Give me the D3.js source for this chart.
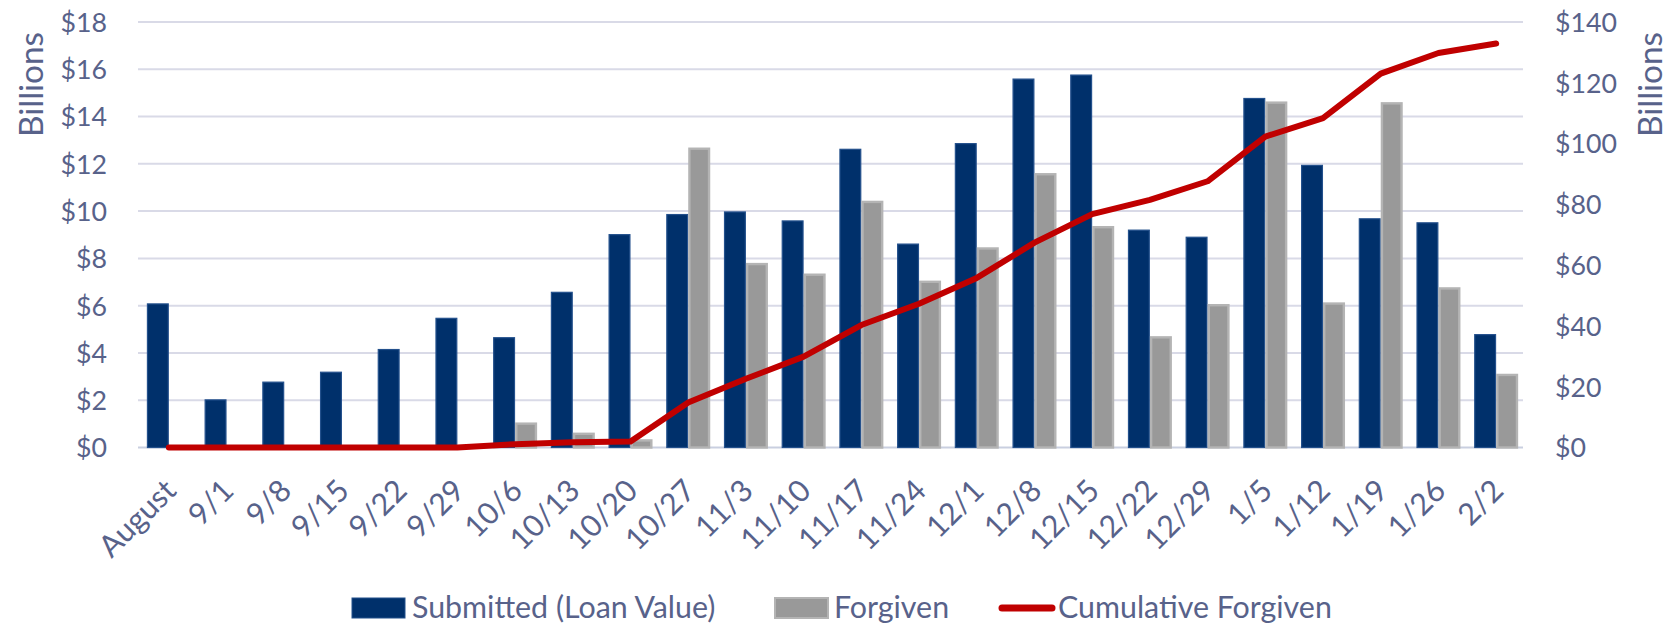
<!DOCTYPE html>
<html><head><meta charset="utf-8">
<script src="https://cdn.jsdelivr.net/npm/d3@7"></script>
<style>
body{margin:0;background:#fff}
svg{display:block}
text{font-family:Lato,"Source Sans Pro",sans-serif;fill:#58628a}
</style>
</head><body>
<svg id="c" width="1670" height="623"></svg>
<script>
const categories = ["August","9/1","9/8","9/15","9/22","9/29","10/6","10/13","10/20","10/27","11/3","11/10","11/17","11/24","12/1","12/8","12/15","12/22","12/29","1/5","1/12","1/19","1/26","2/2"];
const submitted = [6.1,2.04,2.79,3.21,4.17,5.49,4.67,6.59,9.03,9.88,9.99,9.61,12.64,8.63,12.88,15.61,15.78,9.22,8.92,14.79,11.96,9.70,9.53,4.80];
const forgiven = [0,0,0,0,0,0,1.06,0.63,0.35,12.69,7.81,7.36,10.44,7.06,8.47,11.61,9.37,4.71,6.07,14.64,6.14,14.61,6.78,3.12];
const cumulative = [0,0,0,0,0,0,1.1,1.7,2.0,14.8,22.6,29.9,40.3,47.3,55.8,67.4,76.8,81.5,87.6,102.3,108.4,123.0,129.8,132.9];
const leftTicks = [0,2,4,6,8,10,12,14,16,18];
const rightTicks = [0,20,40,60,80,100,120,140];
const seriesNames = ["Submitted (Loan Value)","Forgiven","Cumulative Forgiven"];
const axisTitle = "Billions";

const svg = d3.select("#c");
const plot = {left:140,right:1525,top:22,bottom:447.5};
const COL = {blue:"#00306b",blueEdge:"#23508c",gray:"#999999",grayEdge:"#b4b4b4",red:"#c00000",grid:"#d9dae7",text:"#58628a"};

function fit(str, target){
  const t = svg.append("text").attr("font-size",100).text(str);
  const w = t.node().getComputedTextLength();
  t.remove();
  return 100*target/w;
}
const fsTick = fit("$140",62);
const fsLegend = fit("Cumulative Forgiven",274);
const fsTitle = fit("Billions",105);
const fsX = fsLegend;

const x0 = d3.scaleBand().domain(categories).range([plot.left,plot.right]).paddingInner(0.237).paddingOuter(0.1185);
const x1 = d3.scaleBand().domain(["s","f"]).range([0,x0.bandwidth()]);
const yL = d3.scaleLinear().domain([0,18]).range([plot.bottom,plot.top]);
const yR = d3.scaleLinear().domain([0,140]).range([plot.bottom,plot.top]);

// gridlines
svg.append("g").selectAll("line").data(leftTicks).join("line")
  .attr("x1",138).attr("x2",1523)
  .attr("y1",d=>yL(d)).attr("y2",d=>yL(d))
  .attr("stroke",d=>d===0?"#c9cfe0":COL.grid).attr("stroke-width",2);

// bars
const rows = categories.map((c,i)=>({c,s:submitted[i],f:forgiven[i]}));
const gB = svg.append("g");
const sw1=1.2, sw2=2.4;
gB.selectAll("rect.s").data(rows).join("rect").attr("class","s")
  .attr("x",d=>x0(d.c)+x1("s")+sw1/2).attr("width",x1.bandwidth()-sw1)
  .attr("y",d=>yL(d.s)+sw1/2).attr("height",d=>yL(0)-yL(d.s)-sw1/2)
  .attr("fill",COL.blue).attr("stroke",COL.blueEdge).attr("stroke-width",sw1);
gB.selectAll("rect.f").data(rows.filter(d=>d.f>0)).join("rect").attr("class","f")
  .attr("x",d=>x0(d.c)+x1("f")+sw2/2).attr("width",x1.bandwidth()-sw2)
  .attr("y",d=>yL(d.f)+sw2/2).attr("height",d=>Math.max(0,yL(0)-yL(d.f)-sw2/2))
  .attr("fill",COL.gray).attr("stroke",COL.grayEdge).attr("stroke-width",sw2);

// line
const line = d3.line().x((d,i)=>x0(categories[i])+x0.bandwidth()/2).y(d=>yR(d));
svg.append("path").datum(cumulative).attr("d",line)
  .attr("fill","none").attr("stroke",COL.red).attr("stroke-width",6)
  .attr("stroke-linejoin","round").attr("stroke-linecap","round");

// axes
const axL = svg.append("g").attr("transform",`translate(${plot.left},0)`)
  .call(d3.axisLeft(yL).tickValues(leftTicks).tickFormat(d=>"$"+d).tickSize(0).tickPadding(33));
const axR = svg.append("g").attr("transform",`translate(${plot.right},0)`)
  .call(d3.axisRight(yR).tickValues(rightTicks).tickFormat(d=>"$"+d).tickSize(0).tickPadding(30));
[axL,axR].forEach(a=>{a.select(".domain").remove();
  a.selectAll("text").attr("font-size",fsTick).attr("fill",COL.text).attr("font-family",null).attr("dy","0.35em");});
const axX = svg.append("g").attr("transform",`translate(0,${plot.bottom})`)
  .call(d3.axisBottom(x0).tickSize(0));
axX.select(".domain").remove();
axX.selectAll("text").attr("x",0).attr("y",0).attr("dy",0)
  .attr("transform","translate(9,45) rotate(-45)")
  .style("text-anchor","end").attr("font-size",fsX).attr("fill",COL.text).attr("font-family",null);
svg.selectAll("g.tick text").attr("font-family",null);

// axis titles
svg.append("text").attr("transform","translate(43,84.5) rotate(-90)").attr("text-anchor","middle")
  .attr("font-size",fsTitle).text(axisTitle);
svg.append("text").attr("transform","translate(1662,84.5) rotate(-90)").attr("text-anchor","middle")
  .attr("font-size",fsTitle).text(axisTitle);

// legend
const lg = svg.append("g");
lg.append("rect").attr("x",352).attr("y",598).attr("width",53).attr("height",20).attr("fill",COL.blue).attr("stroke",COL.blueEdge).attr("stroke-width",1);
lg.append("text").attr("x",412).attr("y",618).attr("font-size",fsLegend).text(seriesNames[0]);
lg.append("rect").attr("x",775).attr("y",598).attr("width",53).attr("height",20).attr("fill",COL.gray).attr("stroke",COL.grayEdge).attr("stroke-width",2);
lg.append("text").attr("x",834).attr("y",618).attr("font-size",fsLegend).text(seriesNames[1]);
lg.append("line").attr("x1",1002).attr("x2",1052).attr("y1",608).attr("y2",608).attr("stroke",COL.red).attr("stroke-width",7).attr("stroke-linecap","round");
lg.append("text").attr("x",1058).attr("y",618).attr("font-size",fsLegend).text(seriesNames[2]);
</script>
</body></html>
